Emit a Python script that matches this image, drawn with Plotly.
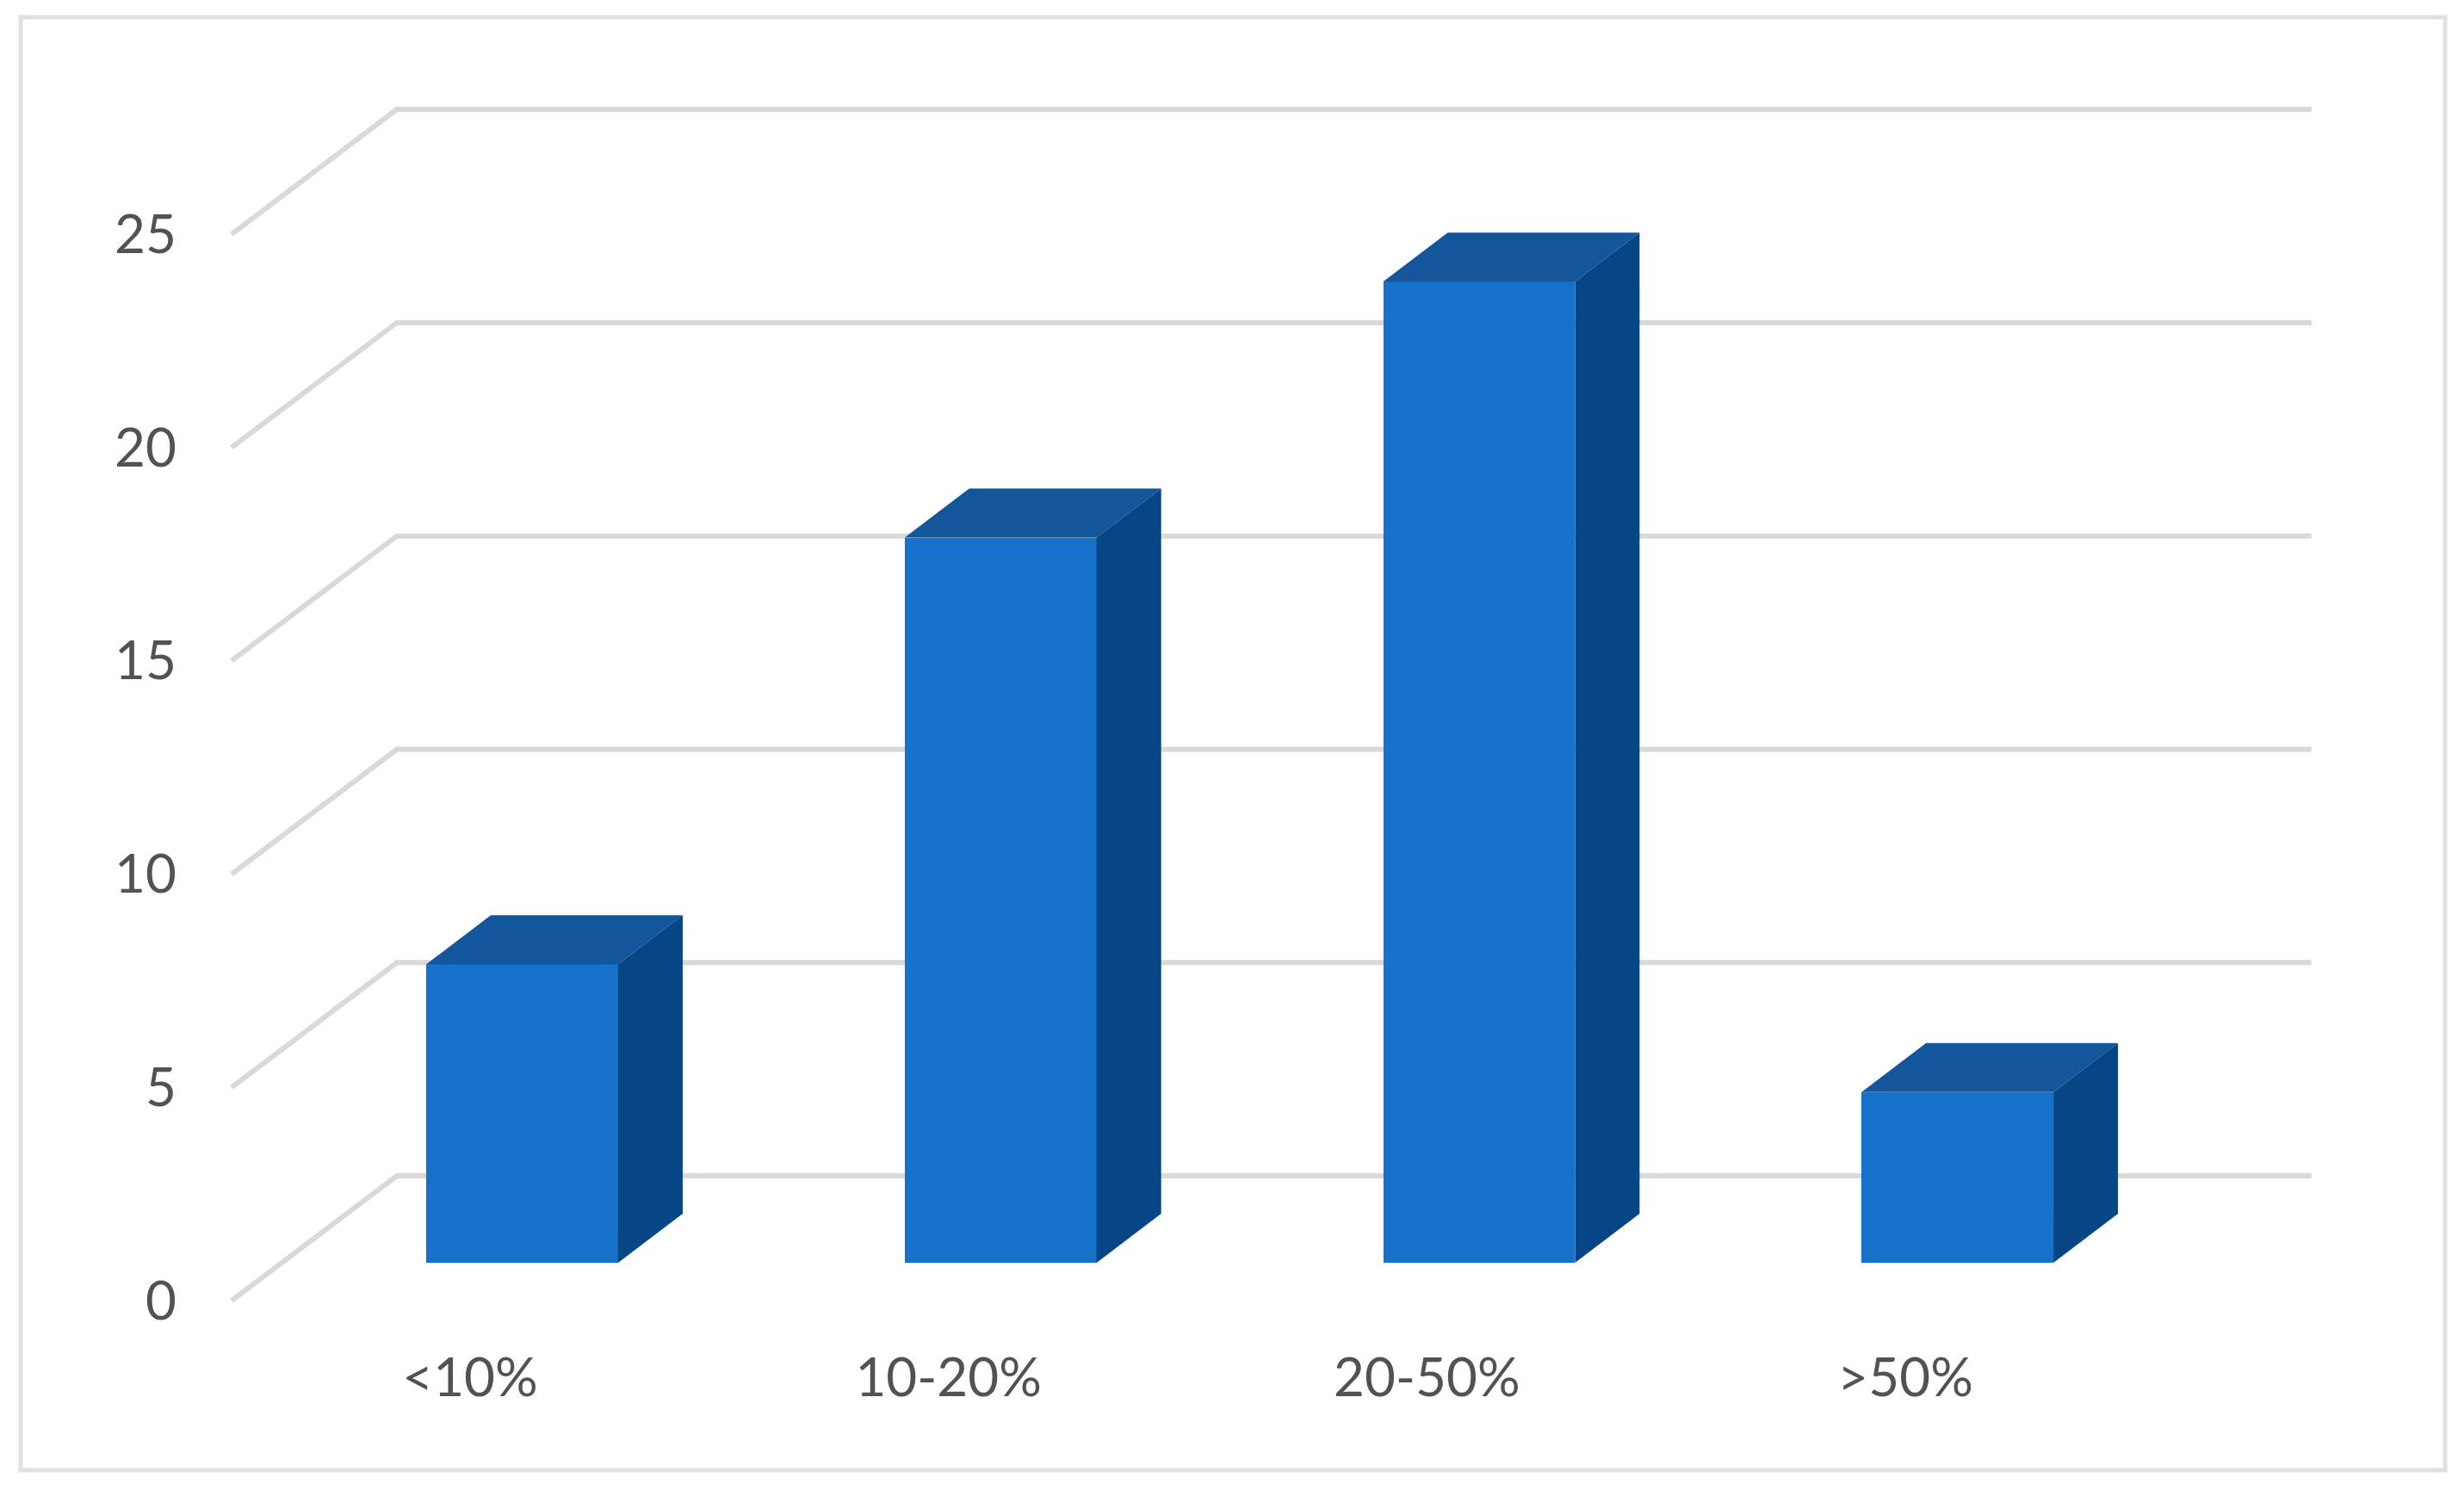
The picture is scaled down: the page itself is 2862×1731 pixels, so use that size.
import plotly.graph_objects as go

# Data
categories = ["<10%", "10-20%", "20-50%", ">50%"]
values = [7, 17, 23, 4]
y_ticks = [0, 5, 10, 15, 20, 25]

# Pseudo-3D geometry, in axis units
BAR_OFFSET = 0.109
BAR_WIDTH = 0.401
BAR_BASE = 0.888
BAR_DX = 0.135
BAR_DY = 1.15
WALL_DX = 0.3455
WALL_DY = 2.926
X_END = 3.849

FRONT = "#1571C9"
TOP = "#14569B"
SIDE = "#064685"
GRID = "#D9D9D9"
TEXT = "#525252"
FONT = "Lato"
FONT_SIZE = 62

# The page body adds an 8 px margin, so the figure is laid out 8 px up and left
PAGE = 8
W, H = 2862 - PAGE, 1731 - PAGE
LEFT, RIGHT, TOP_PX, BOTTOM = 257 - PAGE, 2691 - PAGE, 117 - PAGE, 1521 - PAGE

fig = go.Figure()

positions = list(range(len(categories)))
fig.add_trace(go.Bar(
    x=[p + BAR_OFFSET for p in positions], y=values, base=[BAR_BASE] * len(values),
    width=BAR_WIDTH, marker=dict(color=FRONT, line=dict(width=0)), hoverinfo="skip",
))

for p, v in zip(positions, values):
    x0 = p + BAR_OFFSET - BAR_WIDTH / 2
    x1 = p + BAR_OFFSET + BAR_WIDTH / 2
    y0 = BAR_BASE
    y1 = BAR_BASE + v
    fig.add_trace(go.Scatter(
        x=[x0, x1, x1 + BAR_DX, x0 + BAR_DX, x0],
        y=[y1, y1, y1 + BAR_DY, y1 + BAR_DY, y1],
        mode="lines", fill="toself", fillcolor=TOP, line=dict(width=0), hoverinfo="skip",
    ))
    fig.add_trace(go.Scatter(
        x=[x1, x1 + BAR_DX, x1 + BAR_DX, x1, x1],
        y=[y0, y0 + BAR_DY, y1 + BAR_DY, y1, y0],
        mode="lines", fill="toself", fillcolor=SIDE, line=dict(width=0), hoverinfo="skip",
    ))

X_MIN, X_MAX = -0.52, 3.86
Y_MIN, Y_MAX = -0.2, 28.13

shapes = []
for t in y_ticks:
    path = (f"M {X_MIN + 0.0215},{t} L {X_MIN + 0.0215 + WALL_DX},{t + WALL_DY} "
            f"L {X_END},{t + WALL_DY}")
    shapes.append(dict(type="path", path=path, xref="x", yref="y", layer="below",
                       line=dict(color=GRID, width=6)))
shapes.append(dict(type="rect", xref="paper", yref="paper", layer="below",
                   x0=(24 - 257) / (2691 - 257), x1=(2840 - 257) / (2691 - 257),
                   y0=(1521 - 1708) / (1521 - 117), y1=(1521 - 20) / (1521 - 117),
                   line=dict(color="#E0E0E0", width=5), fillcolor="white"))

fig.update_layout(
    width=W, height=H, autosize=False, showlegend=False,
    margin=dict(l=LEFT, r=W - RIGHT, t=TOP_PX, b=H - BOTTOM, pad=0),
    paper_bgcolor="white", plot_bgcolor="rgba(0,0,0,0)",
    shapes=shapes, bargap=0,
    font=dict(family=FONT, color=TEXT, size=FONT_SIZE),
    xaxis=dict(range=[X_MIN, X_MAX], tickmode="array", tickvals=positions, ticktext=categories,
               showgrid=False, zeroline=False, showline=False, ticks="",
               ticklabelstandoff=38, tickfont=dict(family=FONT, size=FONT_SIZE, color=TEXT)),
    yaxis=dict(range=[Y_MIN, Y_MAX], tickmode="array", tickvals=y_ticks,
               ticktext=[str(t) for t in y_ticks],
               showgrid=False, zeroline=False, showline=False, ticks="",
               ticklabelstandoff=51, tickfont=dict(family=FONT, size=FONT_SIZE, color=TEXT)),
)

fig.write_html("out.html")
